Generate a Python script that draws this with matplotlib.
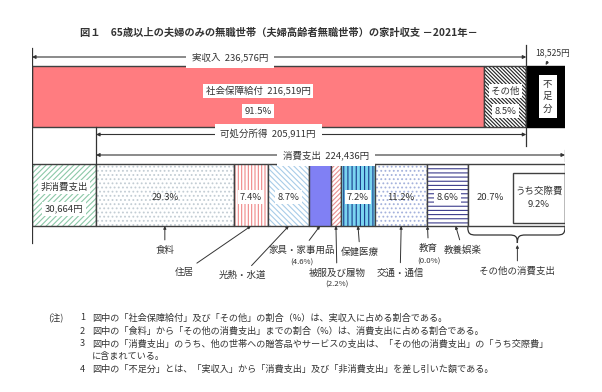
import matplotlib
matplotlib.use("Agg")
import matplotlib.pyplot as plt
from matplotlib.patches import Rectangle, PathPatch
from matplotlib.path import Path

plt.rcParams['font.family'] = ['Noto Sans CJK JP', 'DejaVu Sans']
plt.rcParams['hatch.linewidth'] = 0.8

# ---- data ----
income = 236576
social_security = 216519
social_pct = 91.5
other_income_pct = 8.5
shortfall = 18525
disposable = 205911
consumption = 224436
non_consumption = 30664

cons_labels = ['食料', '住居', '光熱・水道', '家具・家事用品', '被服及び履物',
               '保健医療', '交通・通信', '教育', '教養娯楽', 'その他の消費支出']
cons_pct = [29.3, 7.4, 8.7, 4.6, 2.2, 7.2, 11.2, 0.0, 8.6, 20.7]
social_exp_pct = 9.2

other_income = income - social_security
total = max(income + shortfall, consumption + non_consumption)

W, H = 602, 392
L, R = 32, 565
fig = plt.figure(figsize=(W / 100, H / 100), dpi=100)
ax = fig.add_axes([L / W, 0, (R - L) / W, 1])
ax.set_xlim(0, total)
ax.set_ylim(H, 0)
ax.axis('off')


def px(n):
    # pixel distance -> yen units on the x axis
    return n * total / (R - L)


dark = '#333333'
edge = '#404040'
fs = 6.8
wbox = dict(boxstyle='square,pad=0.25', fc='white', ec='none')

fig.text(0.463, 1 - 33 / H,
         '図１　65歳以上の夫婦のみの無職世帯（夫婦高齢者無職世帯）の家計収支 －2021年－',
         ha='center', va='center', fontsize=7.4, color=dark, fontweight='bold')

# ---- top bar ----
ytop, htop = 96.5, 61
ax.barh(ytop, social_security, height=htop, left=0, color='#FF7C80',
        edgecolor=edge, linewidth=1)
ax.barh(ytop, other_income, height=htop, left=social_security, color='white',
        edgecolor='#202020', hatch='\\' * 9, linewidth=0)
ax.barh(ytop, other_income, height=htop, left=social_security, fill=False,
        edgecolor=edge, linewidth=1)
ax.barh(ytop, shortfall, height=htop, left=income, color='black',
        edgecolor='black', linewidth=1)

ax.text(social_security / 2, 91, f'社会保障給付  {social_security:,}円', ha='center',
        va='center', fontsize=fs, color=dark, bbox=wbox)
ax.text(social_security / 2, 111, f'{social_pct}%', ha='center', va='center',
        fontsize=fs, color=dark, bbox=wbox)
ax.text(social_security + other_income / 2, 91, 'その他', ha='center', va='center',
        fontsize=fs, color=dark, bbox=wbox)
ax.text(social_security + other_income / 2, 111, f'{other_income_pct}%', ha='center',
        va='center', fontsize=fs, color=dark, bbox=wbox)
ax.text(income + shortfall / 2 + px(2), 96.5, '不\n足\n分', ha='center', va='center',
        fontsize=fs, color=dark, linespacing=1.45,
        bbox=dict(boxstyle='square,pad=0.45', fc='white', ec='none'))
ax.annotate(f'{shortfall:,}円', xy=(income + shortfall / 2, 65),
            xytext=(income + shortfall / 2 + px(7), 53), ha='center', va='center',
            fontsize=fs - 0.6, color=dark, annotation_clip=False,
            arrowprops=dict(arrowstyle='-|>', color=dark, lw=0.7,
                            mutation_scale=4, shrinkA=1, shrinkB=0))

# ---- span arrows ----
def span(x0, x1, y, text, xt):
    ax.annotate('', xy=(x0, y), xytext=(x1, y),
                arrowprops=dict(arrowstyle='<|-|>', color=dark, lw=0.8,
                                mutation_scale=5, shrinkA=0, shrinkB=0))
    ax.text(xt, y, text, ha='center', va='center', fontsize=fs, color=dark,
            bbox=dict(boxstyle='square,pad=0.6', fc='white', ec='none'))


span(0, income, 57, f'実収入  {income:,}円', income * 0.4)
span(non_consumption, income, 134.5, f'可処分所得  {disposable:,}円',
     non_consumption + disposable * 0.4)
span(non_consumption, non_consumption + consumption, 155,
     f'消費支出  {consumption:,}円', non_consumption + consumption * 0.49)

ax.plot([0, 0], [48, 243], color=dark, lw=0.9)
ax.plot([income, income], [45, 146], color=dark, lw=0.9)
ax.plot([non_consumption, non_consumption], [127, 164], color=dark, lw=0.9)
ax.plot([total, total], [150, 161], color=dark, lw=0.9)

# ---- bottom bar ----
ybot, hbot = 195, 62
styles = [
    dict(fc='white', hc='#C3CDD4', hatch='....'),
    dict(fc='white', hc='#F08888', hatch='|' * 5),
    dict(fc='white', hc='#A8CCE8', hatch='\\' * 6),
    dict(fc='#8080F4', hc='#8080F4', hatch=None),
    dict(fc='white', hc='#E89090', hatch='/' * 7),
    dict(fc='#7AD4F0', hc='#1A3C8C', hatch='||||'),
    dict(fc='white', hc='#A4B2DC', hatch='....'),
    dict(fc='white', hc='#404080', hatch='----'),
    dict(fc='white', hc='#3C3C8C', hatch='----'),
    dict(fc='white', hc='white', hatch=None),
]

ax.barh(ybot, non_consumption, height=hbot, left=0, color='white',
        edgecolor='#8CC8A8', hatch='/' * 6, linewidth=0)
ax.barh(ybot, non_consumption, height=hbot, left=0, fill=False,
        edgecolor=edge, linewidth=1)
ax.text(non_consumption / 2, 187, '非消費支出', ha='center', va='center',
        fontsize=fs, color=dark, bbox=wbox)
ax.text(non_consumption / 2, 209, f'{non_consumption:,}円', ha='center',
        va='center', fontsize=fs, color=dark, bbox=wbox)

widths = [p / 100 * consumption for p in cons_pct]
scale = consumption / sum(widths)
widths = [w * scale for w in widths]
lefts = []
pos = non_consumption
for w in widths:
    lefts.append(pos)
    pos += w

for i, (lft, w, st) in enumerate(zip(lefts, widths, styles)):
    if w == 0:
        continue
    ax.barh(ybot, w, height=hbot, left=lft, color=st['fc'],
            edgecolor=st['hc'], hatch=st['hatch'], linewidth=0)
    ax.barh(ybot, w, height=hbot, left=lft, fill=False, edgecolor=edge,
            linewidth=1)

centers = [lft + w / 2 for lft, w in zip(lefts, widths)]
boxed = [False, True, True, False, False, True, False, False, True, False]
for i, (c, p) in enumerate(zip(centers, cons_pct)):
    if i in (3, 4, 7):
        continue
    xc = c
    if i == 9:
        xc = lefts[9] + (widths[9] - px(52)) / 2
    ax.text(xc, 197, f'{p}%', ha='center', va='center', fontsize=fs,
            color=dark, bbox=wbox if boxed[i] else None)

# うち交際費 box
ax.add_patch(Rectangle((total - px(52), 173), px(52), 50, fill=False,
                       edgecolor=edge, lw=1))
ax.text(total - px(26), 198, f'うち交際費\n{social_exp_pct}%', ha='center',
        va='center', fontsize=fs, color=dark, linespacing=1.6)

# ---- labels below ----
bar_bottom = ybot + hbot / 2
arr = dict(arrowstyle='-|>', color=dark, lw=0.7, mutation_scale=4,
           shrinkA=2, shrinkB=0)
# (label index, text dx px, text y px, arrow x offset px)
placements = [
    (0, 0, 250, 0),
    (1, -67, 272, 0),
    (2, -46, 275, 0),
    (3, -18, 250, 0),
    (4, 1, 273, 0),
    (5, 2, 252, 0),
    (6, -1, 273, 0),
    (7, 1, 248, 0),
    (8, 15, 250, 8),
]
for i, dx, ty, ax_off in placements:
    xa = centers[i] + px(ax_off)
    xt = centers[i] + px(dx)
    ax.annotate(cons_labels[i], xy=(xa, bar_bottom), xytext=(xt, ty),
                ha='center', va='center', fontsize=fs, color=dark,
                arrowprops=arr)

ax.text(centers[3] - px(18), 263, f'({cons_pct[3]}%)', ha='center',
        va='center', fontsize=5.6, color=dark)
ax.text(centers[4] + px(1), 285, f'({cons_pct[4]}%)', ha='center',
        va='center', fontsize=5.6, color=dark)
ax.text(centers[7] + px(1), 262, f'({cons_pct[7]}%)', ha='center',
        va='center', fontsize=5.6, color=dark)

# brace under その他の消費支出
x0, x1 = lefts[9], lefts[9] + widths[9]
xm = x0 + (x1 - x0) * 0.51
y0 = bar_bottom + 1
r = px(8)
verts = [(x0, y0), (x0, y0 + 7), (x0 + r * 0.3, y0 + 8), (x0 + r, y0 + 8),
         (xm - r, y0 + 8),
         (xm - r * 0.3, y0 + 8), (xm, y0 + 9), (xm, y0 + 16),
         (xm, y0 + 9), (xm + r * 0.3, y0 + 8), (xm + r, y0 + 8),
         (x1 - r, y0 + 8),
         (x1 - r * 0.3, y0 + 8), (x1, y0 + 7), (x1, y0)]
codes = [Path.MOVETO, Path.CURVE4, Path.CURVE4, Path.CURVE4,
         Path.LINETO,
         Path.CURVE4, Path.CURVE4, Path.CURVE4,
         Path.CURVE4, Path.CURVE4, Path.CURVE4,
         Path.LINETO,
         Path.CURVE4, Path.CURVE4, Path.CURVE4]
ax.add_patch(PathPatch(Path(verts, codes), fill=False, edgecolor=dark, lw=0.9))
ax.annotate(cons_labels[9], xy=(xm, y0 + 18), xytext=(xm, 271), ha='center',
            va='center', fontsize=fs, color=dark, arrowprops=arr)

# ---- notes ----
notes = [
    ('1', '図中の「社会保障給付」及び「その他」の割合（%）は、実収入に占める割合である。'),
    ('2', '図中の「食料」から「その他の消費支出」までの割合（%）は、消費支出に占める割合である。'),
    ('3', '図中の「消費支出」のうち、他の世帯への贈答品やサービスの支出は、「その他の消費支出」の「うち交際費」'),
    ('', 'に含まれている。'),
    ('4', '図中の「不足分」とは、「実収入」から「消費支出」及び「非消費支出」を差し引いた額である。'),
]
note_y = [318, 331, 344, 356, 369]
nfs = 6.6
fig.text(48 / W, 1 - 318 / H, '(注)', ha='left', va='center', fontsize=nfs,
         color=dark)
for (num, txt), y in zip(notes, note_y):
    fig.text(80 / W, 1 - y / H, num, ha='left', va='center', fontsize=nfs,
             color=dark)
    fig.text(92 / W, 1 - y / H, txt, ha='left', va='center', fontsize=nfs,
             color=dark)

fig.savefig('out.png', dpi=100, facecolor='white')
